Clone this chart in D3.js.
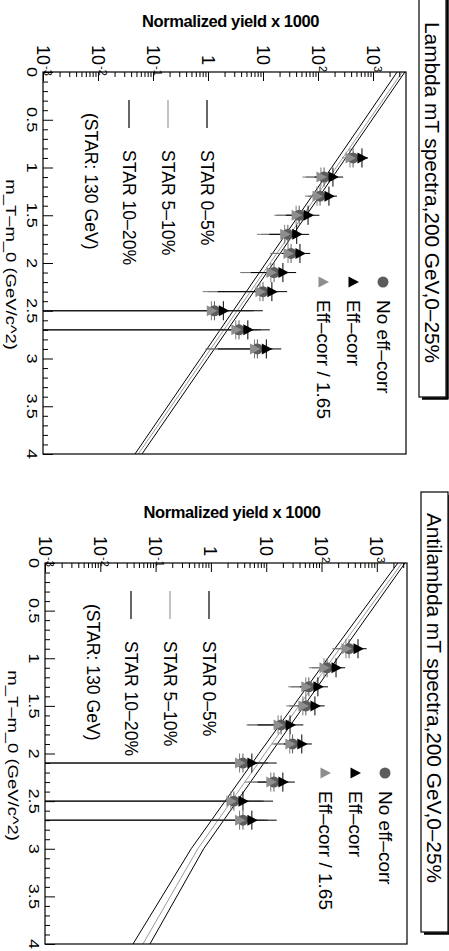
<!DOCTYPE html>
<html><head><meta charset="utf-8">
<script src="https://cdn.jsdelivr.net/npm/d3@7"></script>
<style>
html,body{margin:0;padding:0;background:#fff;}
svg{display:block;}
text{font-family:"Liberation Sans",Arial,Helvetica,sans-serif;fill:#000;}
</style>
</head><body>
<svg id="chart" width="449" height="951"></svg>
<script>
// ---- Lambda, 200 GeV, 0-25% : m_T - m_0 bin centres (GeV/c^2) and yields x 1000
const lambdaMt = [0.9, 1.1, 1.3, 1.5, 1.7, 1.9, 2.1, 2.3, 2.5, 2.7, 2.9];
const lambdaNoEffCorr    = [435, 129, 109, 45.5, 28.3, 32.4, 15.9, 10.0, 1.31, 3.66, 7.9];
const lambdaNoEffCorrErr = [124, 69, 43, 28, 19, 17, 12, 9, 5.5, 5.5, 7];
const lambdaEffCorr      = [630, 187, 158, 66, 41, 47, 23, 14.5, 1.9, 5.3, 11.5];
const lambdaEffCorrErr   = [180, 100, 63, 40, 28, 25, 17, 13, 8, 8, 10];
const lambdaScaled       = [382, 113, 96, 40, 24.8, 28.5, 13.9, 8.8, 1.15, 3.2, 7.0];
const lambdaScaledErr    = [109, 61, 38, 24, 17, 15, 10, 8, 4.8, 4.8, 6];

// ---- Antilambda, 200 GeV, 0-25%
const antiMt = [0.9, 1.1, 1.3, 1.5, 1.7, 1.9, 2.1, 2.3, 2.5, 2.7];
const antiNoEffCorr    = [315, 126, 59, 52, 18.6, 30, 3.8, 13.8, 2.6, 3.8];
const antiNoEffCorrErr = [138, 59, 31, 26, 14, 16, 7, 9, 6.5, 7];
const antiEffCorr      = [457, 183, 86, 76, 27, 44, 5.5, 20, 3.8, 5.5];
const antiEffCorrErr   = [200, 85, 45, 38, 20, 23, 10, 13, 9.5, 10];
const antiScaled       = [277, 111, 52, 46, 16.4, 26.7, 3.3, 12.1, 2.3, 3.3];
const antiScaledErr    = [121, 52, 27, 23, 12, 14, 6, 8, 5.8, 6];

// ---- STAR 130 GeV reference spectra, sampled in m_T - m_0
const starMt = [0, 1, 2, 3, 4];
const lambdaStar0to5   = [3800, 243, 15.5, 0.99, 0.063];
const lambdaStar5to10  = [3390, 214, 13.5, 0.85, 0.054];
const lambdaStar10to20 = [2750, 177, 11.3, 0.73, 0.047];
const antiStar0to5     = [3240, 195, 12.0, 0.74, 0.079];
const antiStar5to10    = [2860, 160, 9.5, 0.58, 0.059];
const antiStar10to20   = [2400, 130, 7.4, 0.44, 0.039];

// ---- axis ticks
const xTickValues = [0, 0.5, 1, 1.5, 2, 2.5, 3, 3.5, 4];
const xTickLabels = ["0", "0.5", "1", "1.5", "2", "2.5", "3", "3.5", "4"];
const yTickValues = [1e-3, 1e-2, 1e-1, 1, 10, 100, 1000];
const yTickBase   = ["10", "10", "10", "1", "10", "10", "10"];
const yTickExp    = ["-3", "-2", "-1", "", "", "2", "3"];

// ---- legend texts
const markerLegend = ["No eff\u2013corr", "Eff\u2013corr", "Eff\u2013corr / 1.65"];
const starLegend   = ["STAR 0\u20135%", "STAR 5\u201310%", "STAR 10\u201320%"];
const starNote     = "(STAR: 130 GeV)";

const panels = [
  {
    title: "Lambda mT spectra,200 GeV,0\u201325%",
    top: 72, bottom: 454, left: 43, right: 406, yMax: Math.pow(10, 3.6),
    boxTop: -10, boxBottom: 397,
    mt: lambdaMt,
    series: [
      {vals: lambdaNoEffCorr, errs: lambdaNoEffCorrErr},
      {vals: lambdaScaled, errs: lambdaScaledErr},
      {vals: lambdaEffCorr, errs: lambdaEffCorrErr}
    ],
    star: [lambdaStar10to20, lambdaStar5to10, lambdaStar0to5]
  },
  {
    title: "Antilambda mT spectra,200 GeV,0\u201325%",
    top: 563, bottom: 944, left: 45, right: 407, yMax: Math.pow(10, 3.546),
    boxTop: 492, boxBottom: 932,
    mt: antiMt,
    series: [
      {vals: antiNoEffCorr, errs: antiNoEffCorrErr},
      {vals: antiScaled, errs: antiScaledErr},
      {vals: antiEffCorr, errs: antiEffCorrErr}
    ],
    star: [antiStar10to20, antiStar5to10, antiStar0to5]
  }
];

// marker styles: No eff-corr (dark grey circle), Eff-corr / 1.65 (grey triangle), Eff-corr (black triangle)
const styles = [
  {shape: "circle",   fill: "#5c5c5c", line: "#5c5c5c"},
  {shape: "triangle", fill: "#8e8e8e", line: "#7a7a7a"},
  {shape: "triangle", fill: "#000000", line: "#000000"}
];
const starColors = ["#000", "#9a9a9a", "#000"];

const svg = d3.select("#chart");

function rotText(g, x, y, str, size, sx, anchor, extra) {
  const t = g.append("text")
    .attr("transform", `translate(${x},${y}) rotate(90) scale(${sx},1)`)
    .attr("font-size", size)
    .attr("text-anchor", anchor || "start")
    .text(str);
  if (extra) extra(t);
  return t;
}

function drawMarker(g, st, cx, cy) {
  if (st.shape === "circle") {
    g.append("circle").attr("cx", cx).attr("cy", cy).attr("r", 5.5).attr("fill", st.fill);
  } else {
    // triangle pointing toward higher yield (rotated frame)
    const p = [[cx + 6, cy], [cx - 4.5, cy - 5.5], [cx - 4.5, cy + 5.5]];
    g.append("path").attr("d", "M" + p.map(d => d.join(",")).join("L") + "Z").attr("fill", st.fill);
  }
}

panels.forEach(P => {
  const g = svg.append("g");
  const xs = d3.scaleLinear().domain([0, 4]).range([P.top, P.bottom]);       // m_T - m_0 runs downward
  const ys = d3.scaleLog().domain([1e-3, P.yMax]).range([P.left, P.right]).clamp(true); // yield runs to the right

  // title box with shadow
  const bx0 = P.left + 376, bx1 = P.left + 403;
  g.append("rect").attr("x", bx0).attr("y", P.boxTop).attr("width", bx1 - bx0).attr("height", P.boxBottom - P.boxTop)
    .attr("fill", "#fff").attr("stroke", "#000").attr("stroke-width", 1.2);
  g.append("line").attr("x1", bx1 + 1.5).attr("x2", bx1 + 1.5).attr("y1", P.boxTop + 3).attr("y2", P.boxBottom + 1.5)
    .attr("stroke", "#000").attr("stroke-width", 2.5);
  g.append("line").attr("x1", bx0 + 3).attr("x2", bx1 + 2.5).attr("y1", P.boxBottom + 1.5).attr("y2", P.boxBottom + 1.5)
    .attr("stroke", "#000").attr("stroke-width", 2.5);
  rotText(g, bx0 + 6, P.top - 50, P.title, 20.8, 1, "start");

  // yield axis title (horizontal)
  g.append("text").attr("x", (P.left + P.right) / 2 + 6).attr("y", P.top - 45)
    .attr("text-anchor", "middle").attr("font-size", 16.5).attr("font-weight", "bold")
    .attr("font-family", "'DejaVu Sans', sans-serif").attr("letter-spacing", -0.4)
    .text("Normalized yield x 1000");

  // clip region for data and curves
  const clipId = "clip" + P.top;
  g.append("clipPath").attr("id", clipId).append("rect")
    .attr("x", P.left).attr("y", P.top).attr("width", P.right - P.left).attr("height", P.bottom - P.top);
  const plot = g.append("g").attr("clip-path", `url(#${clipId})`);

  // STAR reference curves
  const line = d3.line().x(d => ys(d[1])).y(d => xs(d[0]));
  P.star.forEach((vals, i) => {
    plot.append("path").datum(starMt.map((m, k) => [m, vals[k]]))
      .attr("d", line).attr("fill", "none").attr("stroke", starColors[i]).attr("stroke-width", 1);
  });

  // error bars then markers
  const halfBin = 0.1;
  P.series.forEach((s, si) => {
    const st = styles[si];
    P.mt.forEach((m, k) => {
      const v = s.vals[k], e = s.errs[k];
      const cy = xs(m), cx = ys(v);
      plot.append("line").attr("x1", ys(Math.max(v - e, 1e-4))).attr("x2", ys(v + e))
        .attr("y1", cy).attr("y2", cy).attr("stroke", st.line).attr("stroke-width", 1);
      plot.append("line").attr("x1", cx).attr("x2", cx)
        .attr("y1", xs(m - halfBin)).attr("y2", xs(m + halfBin)).attr("stroke", st.line).attr("stroke-width", 1);
    });
  });
  P.series.forEach((s, si) => {
    P.mt.forEach((m, k) => drawMarker(plot, styles[si], ys(s.vals[k]), xs(m)));
  });

  // frame
  g.append("rect").attr("x", P.left).attr("y", P.top).attr("width", P.right - P.left).attr("height", P.bottom - P.top)
    .attr("fill", "none").attr("stroke", "#000").attr("stroke-width", 1.2);

  // yield axis (along top edge, ticks pointing into the frame)
  const yAxis = d3.axisTop(ys).tickValues(
      d3.range(-3, 4).flatMap(p => d3.range(1, 10).map(k => k * Math.pow(10, p))).filter(v => v <= P.yMax))
    .tickSize(0).tickFormat("");
  const ya = g.append("g").attr("transform", `translate(0,${P.top})`).call(yAxis);
  ya.select(".domain").remove();
  ya.selectAll(".tick line").remove();
  ya.selectAll(".tick").append("line")
    .attr("y1", 0).attr("y2", d => (Math.abs(Math.log10(d) - Math.round(Math.log10(d))) < 1e-6 ? 9 : 5))
    .attr("stroke", "#000").attr("stroke-width", 1);
  yTickValues.forEach((v, i) => {
    const x = ys(v) - 6.5;
    rotText(g, x, P.top - 7, yTickBase[i], 18, 1, "end");
    if (yTickExp[i]) rotText(g, x + 7, P.top - 6, yTickExp[i], 11, 1, "start");
  });

  // m_T - m_0 axis (along left edge)
  const xAxis = d3.axisRight(xs).tickValues(d3.range(0, 40.5).map(i => i / 10)).tickSize(0).tickFormat("");
  const xa = g.append("g").attr("transform", `translate(${P.left},0)`).call(xAxis);
  xa.select(".domain").remove();
  xa.selectAll(".tick line").remove();
  xa.selectAll(".tick").append("line")
    .attr("x1", 0).attr("x2", d => (Math.abs(d * 2 - Math.round(d * 2)) < 1e-6 ? 10 : 5))
    .attr("stroke", "#000").attr("stroke-width", 1);
  xTickValues.forEach((v, i) => rotText(g, P.left - 16, xs(v), xTickLabels[i], 14, 1.3, "middle"));
  rotText(g, P.left - 37, P.top + 278, "m_T\u2013m_0 (GeV/c^2)", 14, 1.32, "end");

  // marker legend
  const legY = P.top + 210;
  const legX = [P.left + 340, P.left + 310, P.left + 280];
  [0, 2, 1].forEach((si, j) => {
    drawMarker(g, styles[si], legX[j], legY);
    rotText(g, legX[j] - 6, P.top + 228, markerLegend[j], 19, 1, "start");
  });

  // STAR legend
  const starX = [P.left + 164, P.left + 125, P.left + 86];
  [2, 1, 0].forEach((ci, j) => {
    g.append("line").attr("x1", starX[j]).attr("x2", starX[j]).attr("y1", P.top + 28).attr("y2", P.top + 56)
      .attr("stroke", starColors[ci]).attr("stroke-width", 1.2);
    rotText(g, starX[j] - 6, P.top + 78, starLegend[j], 17.6, 1, "start");
  });
  rotText(g, P.left + 42, P.top + 41, starNote, 17.6, 1, "start");
});
</script>
</body></html>
